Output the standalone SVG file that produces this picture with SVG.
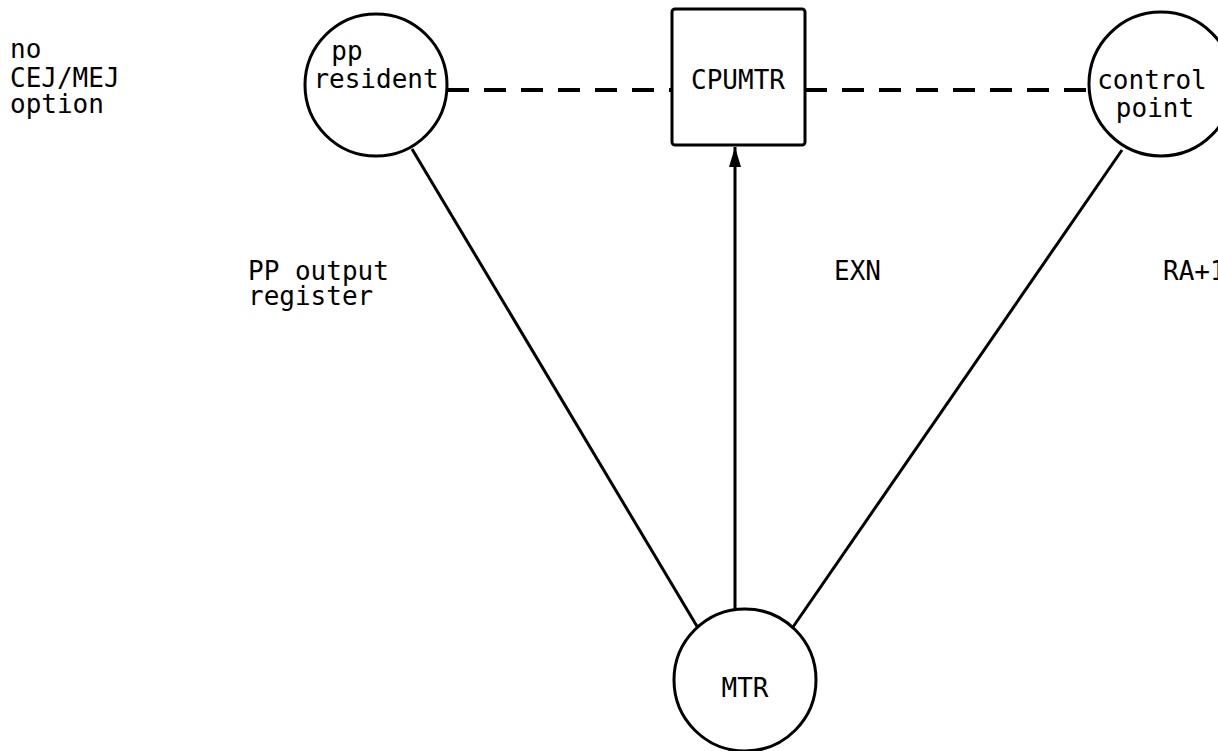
<svg xmlns="http://www.w3.org/2000/svg" width="1218" height="751" viewBox="0 0 1218 751">
<style>
text{font-family:"DejaVu Sans Mono","Liberation Mono",monospace;font-size:26px;fill:#000}
.n{fill:#fff;stroke:#000;stroke-width:3}
.s{stroke:#000;stroke-width:3;fill:none}
.d{stroke:#000;stroke-width:4;fill:none;stroke-dasharray:22 15}
.m{text-anchor:middle}
</style>
<defs>
<marker id="ah" viewBox="0 0 10 10" refX="10" refY="5" markerWidth="6" markerHeight="6" markerUnits="userSpaceOnUse" orient="auto">
<path d="M0,0 L10,5 L0,10 z" fill="#000"/>
</marker>
<marker id="arr" viewBox="0 0 20 12" refX="20" refY="6" markerWidth="20" markerHeight="12" markerUnits="userSpaceOnUse" orient="auto">
<path d="M0,0 L20,6 L0,12 z" fill="#000"/>
</marker>
</defs>
<g id="connectors">
<line class="d" x1="447" y1="90" x2="672" y2="90"/>
<line class="d" x1="805" y1="90" x2="1089" y2="90"/>
<line class="s" x1="412" y1="149" x2="698" y2="628"/>
<line class="s" x1="1122" y1="150" x2="793" y2="627"/>
<line class="s" x1="735" y1="610" x2="735" y2="147" marker-end="url(#arr)"/>
</g>
<g id="note">
<text x="10" y="58">no</text>
<text x="10" y="87">CEJ/MEJ</text>
<text x="10" y="113">option</text>
</g>
<g id="pp-resident">
<circle class="n" cx="376" cy="85" r="71"/>
<text x="347" y="60" class="m">pp</text>
<text x="376" y="88" class="m">resident</text>
</g>
<g id="cpumtr">
<rect class="n" x="672" y="9" width="133" height="136" rx="3"/>
<text x="738" y="89" class="m">CPUMTR</text>
</g>
<g id="control-point">
<circle class="n" cx="1161" cy="84" r="72"/>
<text x="1152" y="89" class="m">control</text>
<text x="1155" y="117" class="m">point</text>
</g>
<g id="mtr">
<circle class="n" cx="745" cy="680" r="71"/>
<text x="745" y="697" class="m">MTR</text>
</g>
<g id="labels">
<text x="248" y="280">PP output</text>
<text x="248" y="305">register</text>
<text x="834" y="280">EXN</text>
<text x="1163" y="280">RA+1</text>
</g>
</svg>
